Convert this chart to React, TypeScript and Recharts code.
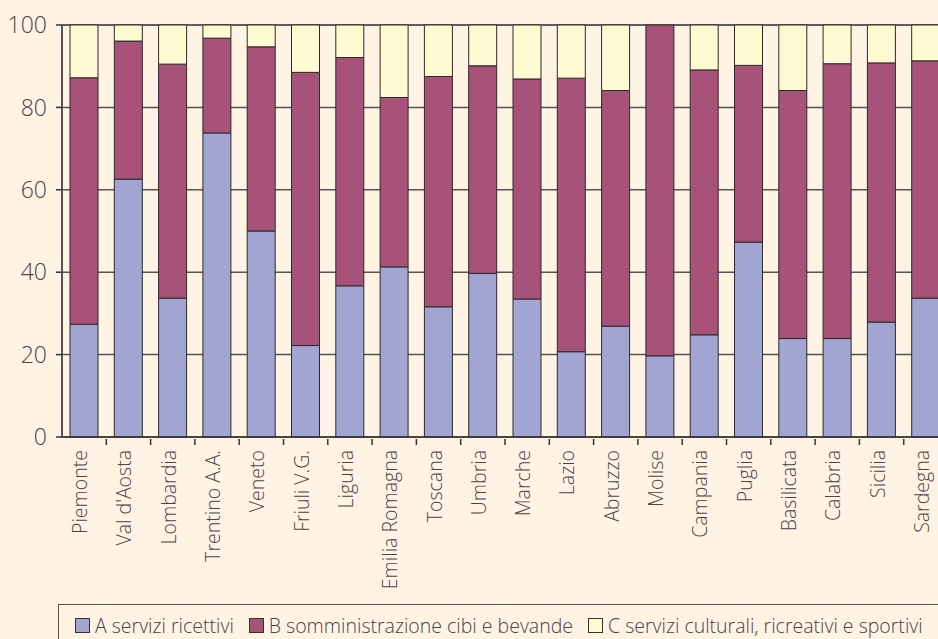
import { Bar, BarChart, CartesianGrid, XAxis, YAxis } from 'recharts'

const regions = [
  'Piemonte', "Val d'Aosta", 'Lombardia', 'Trentino A.A.', 'Veneto',
  'Friuli V.G.', 'Liguria', 'Emilia Romagna', 'Toscana', 'Umbria',
  'Marche', 'Lazio', 'Abruzzo', 'Molise', 'Campania',
  'Puglia', 'Basilicata', 'Calabria', 'Sicilia', 'Sardegna',
]

// A: servizi ricettivi, B: somministrazione cibi e bevande, C: servizi culturali...
const serviziRicettivi = [
  27.4, 62.6, 33.7, 73.8, 50.0, 22.2, 36.7, 41.3, 31.6, 39.7,
  33.5, 20.7, 26.9, 19.7, 24.8, 47.3, 23.9, 23.9, 27.9, 33.7,
]
const somministrazione = [
  59.8, 33.5, 56.8, 23.0, 44.7, 66.3, 55.4, 41.1, 55.9, 50.4,
  53.4, 66.4, 57.2, 80.3, 64.3, 42.9, 60.2, 66.7, 62.9, 57.6,
]
const serviziCulturali = [
  12.8, 3.9, 9.5, 3.2, 5.3, 11.5, 7.9, 17.6, 12.5, 9.9,
  13.1, 12.9, 15.9, 0, 10.9, 9.8, 15.9, 9.4, 9.2, 8.7,
]

const yTicks = [0, 20, 40, 60, 80, 100]

const data = regions.map((name, i) => ({
  name,
  A: serviziRicettivi[i],
  B: somministrazione[i],
  C: serviziCulturali[i],
}))

const FONT = '"Open Sans", Lato, sans-serif'
const INK = '#4a4444'
const colors = { A: '#a2a5d1', B: '#a8527a', C: '#fefad2' }

function RegionTick(props: any) {
  const { x, y, payload, width, visibleTicksCount } = props
  const band = visibleTicksCount ? width / visibleTicksCount : 44.3
  const edge = x + band / 2
  return (
    <g>
      <line x1={edge} x2={edge} y1={y} y2={y + 6} stroke='#333' strokeWidth={1.5} />
      <text
        x={x}
        y={y + 11}
        dy={3}
        transform={`rotate(-90, ${x}, ${y + 11})`}
        textAnchor='end'
        fill={INK}
        fontFamily={FONT}
        fontWeight={300}
        fontSize={19.5}
      >
        {payload.value}
      </text>
    </g>
  )
}

function LegendBox() {
  const items = [
    { color: colors.A, label: 'A servizi ricettivi' },
    { color: colors.B, label: 'B somministrazione cibi e bevande' },
    { color: colors.C, label: 'C servizi culturali, ricreativi e sportivi' },
  ]
  return (
    <div
      style={{
        position: 'absolute',
        left: 58,
        top: 604,
        width: 900,
        height: 60,
        border: '1px solid #555',
        boxSizing: 'border-box',
        display: 'flex',
        alignItems: 'flex-start',
        paddingLeft: 16,
        paddingTop: 7,
        fontFamily: FONT,
        fontWeight: 300,
        fontSize: 19.5,
        color: INK,
        whiteSpace: 'nowrap',
      }}
    >
      {items.map((it) => (
        <span key={it.label} style={{ display: 'flex', alignItems: 'center', marginRight: 15 }}>
          <span
            style={{
              width: 13,
              height: 13,
              background: it.color,
              border: '1px solid #333',
              marginRight: 5,
              display: 'inline-block',
            }}
          />
          {it.label}
        </span>
      ))}
    </div>
  )
}

export default function App() {
  return (
    <div
      style={{
        position: 'absolute',
        left: 0,
        top: 0,
        width: 938,
        height: 639,
        overflow: 'hidden',
        background: '#fff3e4',
      }}
    >
      <BarChart
        width={960}
        height={639}
        data={data}
        margin={{ top: 25, right: 12, bottom: 0, left: 8 }}
      >
        <CartesianGrid vertical={false} stroke='#555' strokeWidth={1.5} />
        <XAxis
          dataKey='name'
          interval={0}
          height={202}
          tickSize={0}
          tickLine={false}
          axisLine={{ stroke: '#333', strokeWidth: 1.5 }}
          tick={<RegionTick />}
        />
        <YAxis
          domain={[0, 100]}
          ticks={yTicks}
          width={54}
          tickSize={6}
          tickMargin={9}
          interval={0}
          axisLine={{ stroke: '#555', strokeWidth: 2 }}
          tickLine={{ stroke: '#333', strokeWidth: 1.5 }}
          tick={{ fill: INK, fontFamily: FONT, fontWeight: 300, fontSize: 23 }}
        />
        <Bar dataKey='A' stackId='s' barSize={28} fill={colors.A} stroke='#2a2a2a' strokeWidth={1} isAnimationActive={false} />
        <Bar dataKey='B' stackId='s' barSize={28} fill={colors.B} stroke='#2a2a2a' strokeWidth={1} isAnimationActive={false} />
        <Bar dataKey='C' stackId='s' barSize={28} fill={colors.C} stroke='#2a2a2a' strokeWidth={1} isAnimationActive={false} />
      </BarChart>
      <LegendBox />
    </div>
  )
}
